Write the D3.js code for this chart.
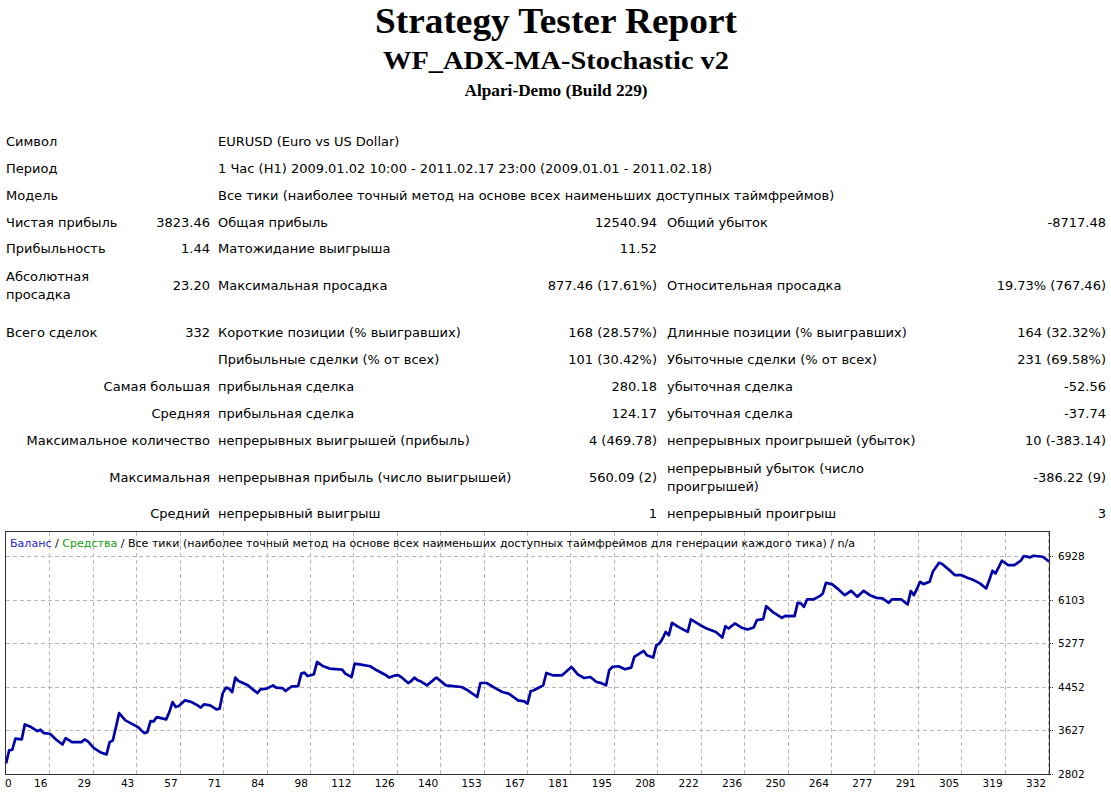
<!DOCTYPE html>
<html>
<head>
<meta charset="utf-8">
<script src="https://cdn.jsdelivr.net/npm/d3@7/dist/d3.min.js"></script>
<style>
  html, body { margin: 0; padding: 0; background: #fff; }
  svg { display: block; }
</style>
</head>
<body>
<svg id="chart" width="1111" height="792"></svg>
<script>
// ---------------- DATA ----------------
const titleLines = ["Strategy Tester Report", "WF_ADX-MA-Stochastic v2", "Alpari-Demo (Build 229)"];

// report table rows: [col1, col2, col3, col4, col5, col6]
const reportRows = [
  ["Символ", "", "EURUSD (Euro vs US Dollar)", "", "", ""],
  ["Период", "", "1 Час (H1) 2009.01.02 10:00 - 2011.02.17 23:00 (2009.01.01 - 2011.02.18)", "", "", ""],
  ["Модель", "", "Все тики (наиболее точный метод на основе всех наименьших доступных таймфреймов)", "", "", ""],
  ["Чистая прибыль", "3823.46", "Общая прибыль", "12540.94", "Общий убыток", "-8717.48"],
  ["Прибыльность", "1.44", "Матожидание выигрыша", "11.52", "", ""],
  ["Абсолютная\nпросадка", "23.20", "Максимальная просадка", "877.46 (17.61%)", "Относительная просадка", "19.73% (767.46)"],
  ["Всего сделок", "332", "Короткие позиции (% выигравших)", "168 (28.57%)", "Длинные позиции (% выигравших)", "164 (32.32%)"],
  ["", "", "Прибыльные сделки (% от всех)", "101 (30.42%)", "Убыточные сделки (% от всех)", "231 (69.58%)"],
  ["Самая большая", "", "прибыльная сделка", "280.18", "убыточная сделка", "-52.56"],
  ["Средняя", "", "прибыльная сделка", "124.17", "убыточная сделка", "-37.74"],
  ["Максимальное количество", "", "непрерывных выигрышей (прибыль)", "4 (469.78)", "непрерывных проигрышей (убыток)", "10 (-383.14)"],
  ["Максимальная", "", "непрерывная прибыль (число выигрышей)", "560.09 (2)", "непрерывный убыток (число\nпроигрышей)", "-386.22 (9)"],
  ["Средний", "", "непрерывный выигрыш", "1", "непрерывный проигрыш", "3"]
];
const col1RightAligned = [false, false, false, false, false, false, false, false, true, true, true, true, true];

// chart caption
const captionParts = [
  { text: "Баланс", color: "#1c1cc8" },
  { text: " / ", color: "#000" },
  { text: "Средства", color: "#10a010" },
  { text: " / Все тики (наиболее точный метод на основе всех наименьших доступных таймфреймов для генерации каждого тика) / n/a", color: "#000" }
];

// axes
const xTickLabels = ["0","16","29","43","57","71","84","98","112","126","140","153","167","181","195","208","222","236","250","264","277","291","305","319","332"];
const yTickValues = [2802, 3627, 4452, 5277, 6103, 6928];

// balance curve (trade number, balance)
const tradeNo = [0,1,2,3,5,6,8,10,11,12,14,16,18,19,21,24,25,26,28,30,32,33,34,35,36,38,41,42,44,45,46,47,48,50,51,52,53,54,55,57,59,61,62,63,65,67,68,69,70,71,72,73,74,77,80,81,83,85,86,88,89,91,93,94,95,96,97,98,99,101,103,107,108,110,111,113,116,118,121,122,124,125,126,128,129,130,131,132,134,137,140,143,145,147,150,151,153,156,158,160,163,165,166,167,168,170,171,172,174,177,180,182,184,186,188,189,191,192,193,195,197,199,200,203,204,206,207,208,209,210,211,212,214,217,218,221,223,226,228,229,230,232,234,236,238,239,241,242,244,247,248,251,252,253,254,255,257,259,260,261,263,265,267,269,271,273,275,277,279,281,282,285,287,288,289,291,292,294,295,297,298,300,302,304,306,308,310,312,313,314,315,317,319,321,323,324,326,327,330,332];
const balance = [3000,3250,3261,3470,3456,3741,3690,3614,3640,3576,3564,3451,3361,3481,3405,3405,3456,3424,3291,3215,3172,3405,3437,3690,3955,3817,3722,3690,3576,3595,3803,3798,3879,3849,3836,3974,4164,4069,4088,4196,4164,4101,4058,4120,4101,4025,4039,4334,4437,4418,4353,4627,4562,4480,4334,4405,4418,4480,4437,4429,4372,4462,4467,4702,4721,4657,4670,4689,4922,4841,4797,4778,4702,4638,4892,4873,4841,4765,4670,4627,4670,4670,4627,4524,4562,4627,4575,4556,4480,4627,4480,4462,4448,4386,4259,4524,4524,4418,4353,4323,4196,4177,4133,4367,4386,4448,4480,4714,4670,4670,4828,4689,4619,4638,4543,4532,4480,4765,4828,4841,4784,4816,5017,5131,5049,5006,5239,5271,5366,5491,5429,5662,5586,5491,5727,5618,5556,5491,5385,5599,5556,5651,5575,5537,5575,5713,5732,5979,5871,5757,5795,5789,6041,6030,5966,6106,6106,6168,6220,6421,6390,6296,6187,6269,6155,6269,6187,6136,6125,6041,6106,6106,6011,6263,6187,6440,6396,6440,6629,6800,6775,6675,6567,6567,6516,6472,6409,6314,6472,6648,6599,6838,6756,6756,6838,6927,6902,6933,6914,6823];

// ---------------- DRAW ----------------
const svg = d3.select("#chart");
svg.append("rect").attr("width", 1111).attr("height", 792).attr("fill", "#fff");

// Titles
const titleSpec = [
  { y: 33, size: 36, len: 362 },
  { y: 68.5, size: 26, len: 346 },
  { y: 95.5, size: 17, len: 183 }
];
titleLines.forEach((t, i) => {
  svg.append("text")
    .attr("x", 556).attr("y", titleSpec[i].y)
    .attr("text-anchor", "middle")
    .attr("font-family", "'Liberation Serif', 'Times New Roman', serif")
    .attr("font-weight", "bold")
    .attr("font-size", titleSpec[i].size)
    .attr("textLength", titleSpec[i].len)
    .attr("lengthAdjust", "spacingAndGlyphs")
    .attr("fill", "#000")
    .text(t);
});

// Report table
const rowY = [141, 168, 195, 222, 248, 285, 332, 359, 386, 413, 440, 477, 513];
const colX = [6, 210, 218, 657, 667, 1106];
const colAnchor = ["start", "end", "start", "end", "start", "end"];
const tableFont = "'DejaVu Sans', Tahoma, Verdana, sans-serif";
const lineGap = 18;

const table = svg.append("g").attr("font-family", tableFont).attr("font-size", 13).attr("fill", "#000");
reportRows.forEach((row, ri) => {
  row.forEach((cell, ci) => {
    if (!cell) return;
    let x = colX[ci], anchor = colAnchor[ci];
    if (ci === 0 && col1RightAligned[ri]) { x = 210; anchor = "end"; }
    const lines = cell.split("\n");
    const t = table.append("text").attr("text-anchor", anchor);
    lines.forEach((ln, li) => {
      const yy = rowY[ri] + (li - (lines.length - 1) / 2) * lineGap;
      t.append("tspan").attr("x", x).attr("y", yy).attr("dy", "0.36em").text(ln);
    });
  });
});

// Chart
const frame = { left: 6, right: 1049, top: 532, bottom: 774 };
const x = d3.scaleLinear().domain([0, 332]).range([frame.left, frame.right]);
const y = d3.scaleLinear().domain([2802, 6928]).range([774, 556]);
const xGrid = d3.scalePoint().domain(xTickLabels).range([frame.left, 1048]);

const grid = svg.append("g").attr("stroke", "#b8b8b8").attr("stroke-width", 1).attr("stroke-dasharray", "4,3");
grid.selectAll("line.h").data(yTickValues.slice(1)).join("line")
  .attr("x1", frame.left).attr("x2", frame.right)
  .attr("y1", d => Math.round(y(d)) + 0.5).attr("y2", d => Math.round(y(d)) + 0.5);
grid.selectAll("line.v").data(xTickLabels.slice(1)).join("line")
  .attr("x1", d => Math.round(xGrid(d)) + 0.5).attr("x2", d => Math.round(xGrid(d)) + 0.5)
  .attr("y1", frame.top).attr("y2", frame.bottom);

// Balance line
const pts = tradeNo.map((t, i) => [t, balance[i]]);
svg.append("path")
  .datum(pts)
  .attr("fill", "none")
  .attr("stroke", "#0000a8")
  .attr("stroke-width", 2.7)
  .attr("stroke-linejoin", "round")
  .attr("d", d3.line().x(d => x(d[0])).y(d => y(d[1])));

// Frame
svg.append("rect")
  .attr("x", frame.left - 0.5).attr("y", frame.top - 0.5)
  .attr("width", frame.right - frame.left + 1).attr("height", frame.bottom - frame.top + 1)
  .attr("fill", "none").attr("stroke", "#303030").attr("stroke-width", 1);

// Caption
const cap = svg.append("text")
  .attr("x", 10).attr("y", 543).attr("dy", "0.36em")
  .attr("font-family", tableFont).attr("font-size", 11)
  .attr("textLength", 845).attr("lengthAdjust", "spacingAndGlyphs");
captionParts.forEach(p => cap.append("tspan").attr("fill", p.color).text(p.text));

// Y axis (right)
const yAxis = svg.append("g").attr("font-family", tableFont).attr("font-size", 10.5).attr("fill", "#000");
yTickValues.forEach(v => {
  const yy = Math.round(y(v)) + 0.5;
  yAxis.append("line").attr("x1", frame.right).attr("x2", frame.right + 4).attr("y1", yy).attr("y2", yy)
    .attr("stroke", "#303030").attr("stroke-dasharray", "2,1");
  yAxis.append("text").attr("x", 1058).attr("y", yy).attr("dy", "0.36em").text(String(v));
});

// X axis labels (bottom)
const xAxis = svg.append("g").attr("font-family", tableFont).attr("font-size", 10.5).attr("fill", "#000");
xTickLabels.forEach((lab, i) => {
  const xx = xGrid(lab);
  xAxis.append("text")
    .attr("x", i === 0 ? xx - 1 : xx - 2)
    .attr("y", 783).attr("dy", "0.36em")
    .attr("text-anchor", i === 0 ? "start" : "end")
    .text(lab);
});
</script>
</body>
</html>
